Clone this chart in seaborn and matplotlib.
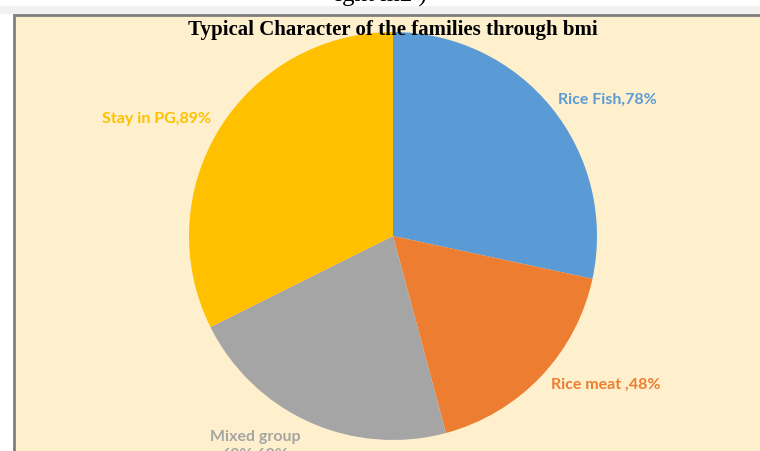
import matplotlib
matplotlib.use("Agg")
import matplotlib.pyplot as plt
import seaborn as sns
from matplotlib.patches import Rectangle

# data
groups = ["Rice Fish", "Rice meat ", "Mixed group", "Stay in PG"]
values = [78, 48, 60, 89]
pct_text = ["78%", "48%", "60%,60%", "89%"]
colors = ["#5B9BD5", "#ED7D31", "#A5A5A5", "#FFC000"]
title = "Typical Character of the families through bmi"

sns.set_theme(style="white")
plt.rcParams["font.family"] = ["Lato", "DejaVu Sans"]

W, H = 760, 452
fig = plt.figure(figsize=(W / 100, H / 100), dpi=100)
fig.patch.set_facecolor("white")

# page strip + cream chart area with grey frame
fig.patches.append(Rectangle((0, 1 - 15 / H), 1, 8 / H, transform=fig.transFigure,
                             facecolor="#F1F1F1", edgecolor="none", zorder=-2))
fig.patches.append(Rectangle((14 / W, -0.5), 1, 1.5 - 16 / H, transform=fig.transFigure,
                             facecolor="#FEF0CD", edgecolor="#7F7F7F", linewidth=2, zorder=-1))

# cut off text of the page above the chart
fig.text(381 / W, 1 - 2 / H, "ight m2 )", ha="center", va="baseline",
         family="Liberation Serif", fontsize=18, color="black")

ax = fig.add_axes([189 / W, 11 / H, 408 / W, 408 / H])
ax.set_zorder(1)
ax.patch.set_alpha(0)
wedges, _ = ax.pie(values, colors=colors, startangle=90, counterclock=False,
                   wedgeprops=dict(linewidth=0))
ax.set_xlim(-1, 1)
ax.set_ylim(-1, 1)
ax.axis("off")

# label placement (outside end, like the excel chart)
label_pos = [(1.049, 0.672), (1.044, -0.725), (-0.676, -0.945), (-1.157, 0.578)]
for g, p, c, (lx, ly) in zip(groups, pct_text, colors, label_pos):
    if g == "Mixed group":
        txt = g + "\n" + p
        va = "top"
    else:
        txt = g + "," + p
        va = "center"
    ax.text(lx, ly, txt, color=c, ha="center", va=va, fontsize=11.5,
            fontweight="bold", clip_on=False, linespacing=1.4)

fig.text(393 / W, 1 - 30 / H, title, ha="center", va="center", zorder=5,
         family="Liberation Serif", fontweight="bold", fontsize=15, color="black")

fig.savefig("out.png", dpi=100)
